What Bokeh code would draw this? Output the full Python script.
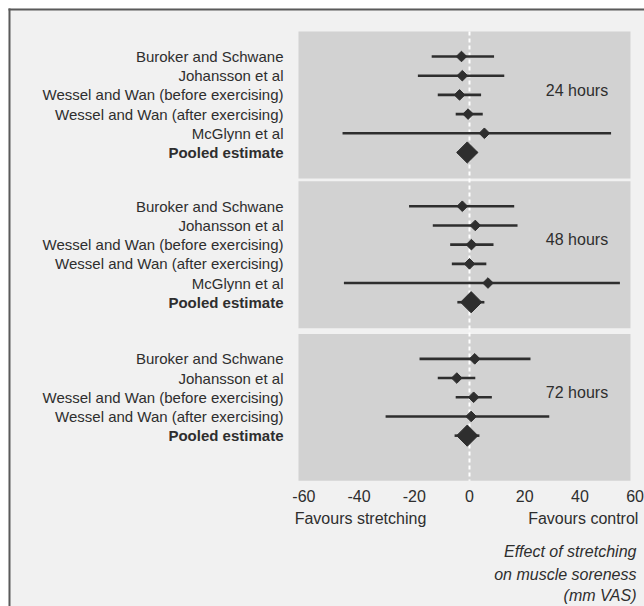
from bokeh.plotting import figure
from bokeh.models import ColumnDataSource, Range1d
from bokeh.core.properties import value, field
from bokeh.embed import file_html
from bokeh.resources import INLINE
import math

# ---------------- data ----------------
groups = ["24 hours", "48 hours", "72 hours"]

studies_24 = ["Buroker and Schwane", "Johansson et al", "Wessel and Wan (before exercising)",
              "Wessel and Wan (after exercising)", "McGlynn et al", "Pooled estimate"]
est_24 = [-2.9, -2.6, -3.6, -0.5, 5.4, -0.8]
lo_24 = [-13.7, -18.7, -11.5, -5.0, -46.0, -4.4]
hi_24 = [8.9, 12.6, 4.2, 4.8, 51.3, 2.8]

studies_48 = ["Buroker and Schwane", "Johansson et al", "Wessel and Wan (before exercising)",
              "Wessel and Wan (after exercising)", "McGlynn et al", "Pooled estimate"]
est_48 = [-2.6, 2.1, 0.7, 0.0, 6.7, 0.6]
lo_48 = [-21.9, -13.3, -7.0, -6.4, -45.5, -4.4]
hi_48 = [16.2, 17.4, 8.7, 6.1, 54.5, 5.4]

studies_72 = ["Buroker and Schwane", "Johansson et al", "Wessel and Wan (before exercising)",
              "Wessel and Wan (after exercising)", "Pooled estimate"]
est_72 = [1.9, -4.6, 1.5, 0.6, -0.8]
lo_72 = [-18.1, -11.5, -5.0, -30.4, -5.4]
hi_72 = [22.1, 2.1, 8.1, 28.9, 3.6]

x_ticks = [-60, -40, -20, 0, 20, 40, 60]

# ---------------- layout constants ----------------
group_offsets = [0.0, 7.8, 15.75]
PAPER = "#f1f1f1"
PANEL = "#d2d2d2"
INK = "#2e2e2e"
EDGE = "#5a5a5a"
FONT = value("Liberation Sans")

X0, X1 = -169.93, 63.41      # canvas left / right in data units
Y_TOP, Y_BOT = -2.917, 28.65  # canvas top / bottom in row units
PANEL_L, PANEL_R = -61.96, 58.33

all_studies = [studies_24, studies_48, studies_72]
all_est = [est_24, est_48, est_72]
all_lo = [lo_24, lo_48, lo_72]
all_hi = [hi_24, hi_48, hi_72]

study = dict(y=[], est=[], lo=[], hi=[])
pooled = dict(y=[], est=[], lo=[], hi=[])
labels = dict(y=[], name=[], style=[])
for off, names, es, los, his in zip(group_offsets, all_studies, all_est, all_lo, all_hi):
    for i, (n, e, l, h) in enumerate(zip(names, es, los, his)):
        y = off + i
        target = pooled if n == "Pooled estimate" else study
        target["y"].append(y); target["est"].append(e); target["lo"].append(l); target["hi"].append(h)
        labels["y"].append(y); labels["name"].append(n)
        labels["style"].append("bold" if n == "Pooled estimate" else "normal")

study_src = ColumnDataSource(study)
pooled_src = ColumnDataSource(pooled)
label_src = ColumnDataSource(dict(labels, x=[-67.4] * len(labels["y"])))
panel_src = ColumnDataSource(dict(
    top=[o - 1.3 for o in group_offsets],
    bottom=[o + 6.35 for o in group_offsets],
    left=[PANEL_L] * 3, right=[PANEL_R] * 3,
))
hour_src = ColumnDataSource(dict(x=[38.95] * 3, y=[o + 1.75 for o in group_offsets], t=groups))
tick_src = ColumnDataSource(dict(x=x_ticks, y=[22.92] * len(x_ticks), t=[str(t) for t in x_ticks]))

W, H = 644, 606
p = figure(width=W, height=H, output_backend="svg", toolbar_location=None,
           x_range=Range1d(X0, X1), y_range=Range1d(Y_BOT, Y_TOP),
           x_axis_location=None, y_axis_location=None,
           min_border_left=0, min_border_right=0, min_border_top=0, min_border_bottom=0)
p.background_fill_color = "white"
p.border_fill_color = "white"
p.outline_line_color = None
p.grid.visible = False

px = 1 / 2.76     # one pixel in x data units
py = 1 / 19.2     # one pixel in y row units

# scanned page: paper and its edges
p.quad(left=X0 + 8 * px, right=X1, top=Y_TOP + 8 * py, bottom=Y_BOT, fill_color=PAPER, line_color=None)
p.quad(left=X0 + 8 * px, right=X0 + 10 * px, top=Y_TOP + 8 * py, bottom=Y_BOT,
       fill_color=EDGE, line_color=None)
p.quad(left=X0 + 8 * px, right=X1, top=Y_TOP + 8 * py, bottom=Y_TOP + 10 * py,
       fill_color=EDGE, line_color=None)

# panels
p.quad(source=panel_src, left="left", right="right", top="top", bottom="bottom",
       fill_color=PANEL, line_color=None)
p.segment(x0=0, x1=0, y0=min(panel_src.data["top"]), y1=max(panel_src.data["bottom"]),
          line_color="white", line_width=2, line_dash="4 3")

# studies
p.segment(source=study_src, x0="lo", x1="hi", y0="y", y1="y", line_color=INK, line_width=2.6)
p.scatter(source=study_src, x="est", y="y", marker="square", angle=math.pi / 4, size=7.5,
          fill_color=INK, line_color=INK)
p.segment(source=pooled_src, x0="lo", x1="hi", y0="y", y1="y", line_color=INK, line_width=2.6)
p.scatter(source=pooled_src, x="est", y="y", marker="square", angle=math.pi / 4, size=15,
          fill_color=INK, line_color=INK)

# texts
p.text(source=label_src, x="x", y="y", text="name", text_font=FONT, text_font_size="15px",
       text_font_style=field("style"), text_align="right", text_baseline="middle",
       text_color=INK)
p.text(source=hour_src, x="x", y="y", text="t", text_font=FONT, text_font_size="16px",
       text_align="center", text_baseline="middle", text_color=INK)
p.text(source=tick_src, x="x", y="y", text="t", text_font=FONT, text_font_size="16px",
       text_align="center", text_baseline="middle", text_color=INK)

def lab(x, y, t, align, style="normal"):
    p.text(x=[x], y=[y], text=[t], text_font=FONT, text_font_size="16px",
           text_font_style=style, text_align=align, text_baseline="middle", text_color=INK)

lab(-39.5, 24.06, "Favours stretching", "center")
lab(61.2, 24.06, "Favours control", "right")
lab(60.5, 25.8, "Effect of stretching", "right", "italic")
lab(60.5, 26.97, "on muscle soreness", "right", "italic")
lab(60.5, 28.1, "(mm VAS)", "right", "italic")

open("out.html", "w").write(file_html(p, INLINE))
